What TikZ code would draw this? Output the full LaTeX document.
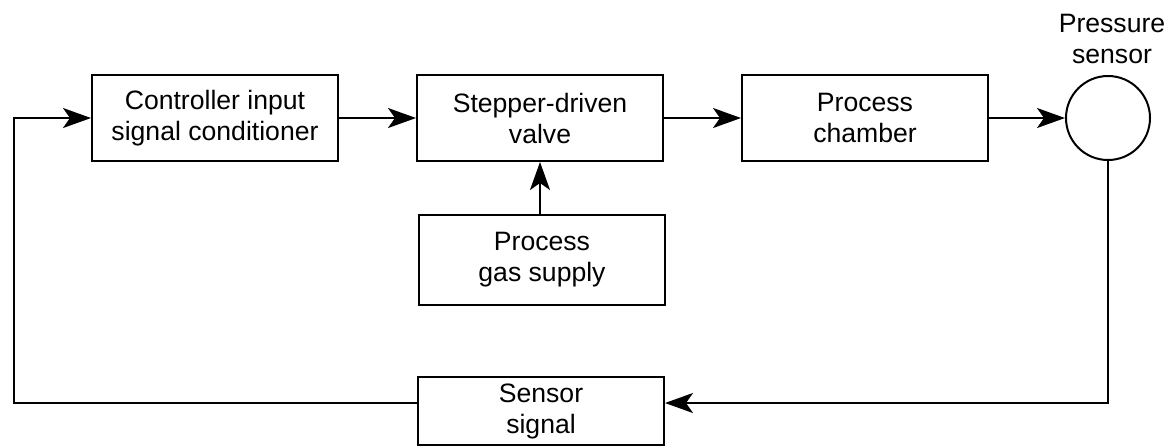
\documentclass[tikz,border=0pt]{standalone}
\usepackage{fontspec}
\setmainfont{Liberation Sans}
\usetikzlibrary{positioning, arrows.meta}
\tikzset{
	blocknode/.style={
			rectangle,
			draw=black,
			line width=1pt,
			fill=white,
			minimum width=123pt,
			minimum height=43pt,
			inner sep=0pt,
			align=center,
			font=\fontsize{13.3}{15.5}\selectfont
		},
	sensornode/.style={
			circle,
			draw=black,
			line width=1pt,
			fill=white,
			minimum size=42pt,
			inner sep=0pt
		},
	labelnode/.style={
			draw=none,
			inner sep=0pt,
			align=center,
			font=\fontsize{13.3}{15.5}\selectfont
		},
	flowline/.style={
			line width=1pt,
			-{Stealth[length=14pt, width=10pt, inset=3.5pt]}
		}
}

\begin{document}
\begin{tikzpicture}[x=0.5pt, y=-0.5pt]
\useasboundingbox (0,0) rectangle (1167,447);

\node[blocknode] (ctrl) at (215,118)  { Controller input\\signal conditioner };
\node[blocknode] (valve) at (540,118)  { Stepper-driven\\valve };
\node[blocknode, minimum height=45pt] (gas) at (542,260)  { Process\\gas supply };
\node[blocknode] (chamber) at (865,118)  { Process\\chamber };
\node[sensornode] (sens) at (1108,118)  {};
\node[labelnode] (senslabel) at (1112,39)  { Pressure\\sensor };
\node[blocknode, minimum height=34pt] (sig) at (541,411)  { Sensor\\signal };

\coordinate (fbr) at (1108,403);
\coordinate (fbl) at (14,403);
\coordinate (fbu) at (14,118);

\draw[flowline] (ctrl) -- (valve);
\draw[flowline] (valve) -- (chamber);
\draw[flowline] (chamber) -- (sens);
\draw[flowline] (gas.north -| 540,0) -- (valve.south -| 540,0);

% feedback path
\draw[flowline] (sens.south) -- (fbr) -- (sig.east |- fbr);
\draw[flowline] (sig.west |- fbl) -- (fbl) -- (fbu) -- (ctrl.west);
\end{tikzpicture}
\end{document}
